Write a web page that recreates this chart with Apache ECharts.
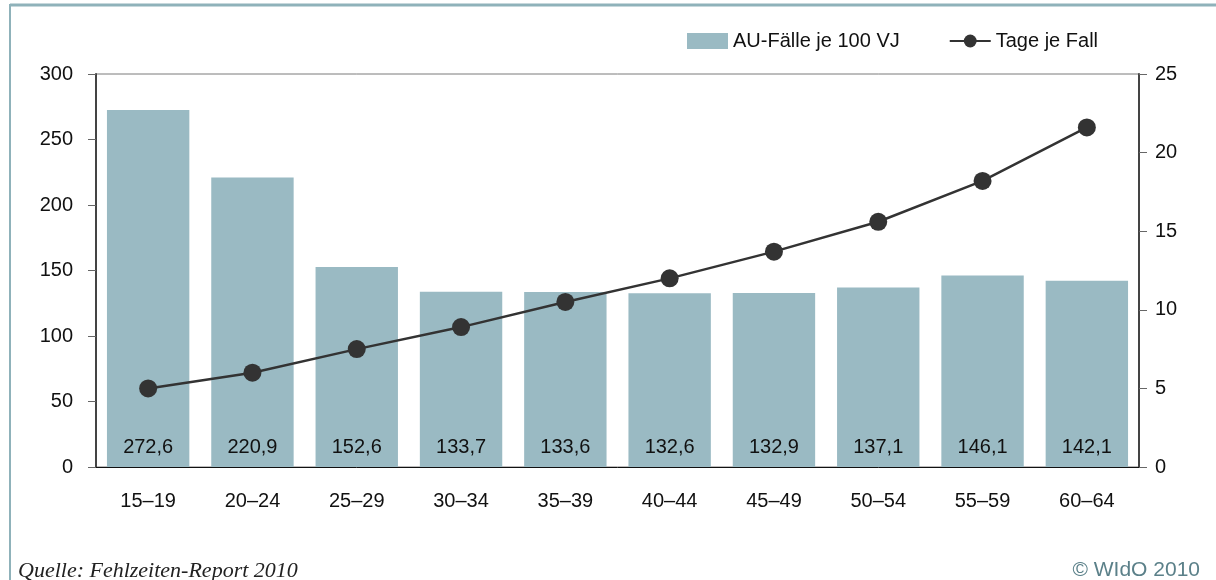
<!doctype html>
<html>
<head>
<meta charset="utf-8">
<title>AU-Fälle und Tage je Fall nach Alter</title>
<script src="https://cdn.jsdelivr.net/npm/echarts@6/dist/echarts.min.js"></script>
<style>
html,body{margin:0;padding:0;background:#fff;}
#chart{width:1216px;height:580px;}
</style>
</head>
<body>
<div id="chart"></div>
<script type="text/javascript">
// Altersgruppen
var kategorien = ['15–19','20–24','25–29','30–34','35–39','40–44','45–49','50–54','55–59','60–64'];
// AU-Fälle je 100 VJ (linke Achse)
var faelle = [272.6, 220.9, 152.6, 133.7, 133.6, 132.6, 132.9, 137.1, 146.1, 142.1];
// Tage je Fall (rechte Achse)
var tage = [5.0, 6.0, 7.5, 8.9, 10.5, 12.0, 13.7, 15.6, 18.2, 21.6];

var schrift = 'Liberation Sans, Arial, sans-serif';
var mychart = echarts.init(document.getElementById('chart'));

mychart.setOption({
	animation: false,
	textStyle: { fontFamily: schrift },
	grid: {
		left: 96, right: 77, top: 74, bottom: 113,
		show: true, borderColor: '#7a7a7a', borderWidth: 1
	},
	legend: {
		left: 687, top: 31, padding: 0,
		itemWidth: 41, itemHeight: 16, itemGap: 49,
		textStyle: { fontSize: 20, color: '#111', fontFamily: schrift },
		data: [
			{ name: 'AU-Fälle je 100 VJ', icon: 'rect' },
			{ name: 'Tage je Fall' }
		]
	},
	xAxis: {
		type: 'category',
		data: kategorien,
		axisLine: { lineStyle: { color: '#111', width: 1 } },
		axisTick: { show: false },
		axisLabel: { fontSize: 20, color: '#111', margin: 24 }
	},
	yAxis: [{
		type: 'value', min: 0, max: 300, interval: 50,
		axisLine: { show: true, lineStyle: { color: '#444', width: 2 } },
		axisTick: { show: true, inside: false, length: 8, lineStyle: { color: '#666' } },
		axisLabel: { fontSize: 20, color: '#111', margin: 23 },
		splitLine: { show: false }
	}, {
		type: 'value', min: 0, max: 25, interval: 5,
		axisLine: { show: true, lineStyle: { color: '#444', width: 2 } },
		axisTick: { show: true, inside: false, length: 8, lineStyle: { color: '#666' } },
		axisLabel: { fontSize: 20, color: '#111', margin: 16 },
		splitLine: { show: false }
	}],
	series: [{
		name: 'AU-Fälle je 100 VJ',
		type: 'bar',
		data: faelle,
		barCategoryGap: '21%',
		itemStyle: { color: '#9abac3' },
		label: {
			show: true, position: 'insideBottom', distance: 10,
			fontSize: 20, color: '#111',
			formatter: function (p) { return p.value.toFixed(1).replace('.', ','); }
		}
	}, {
		name: 'Tage je Fall',
		type: 'line',
		yAxisIndex: 1,
		data: tage,
		symbol: 'circle',
		symbolSize: 18,
		lineStyle: { color: '#333', width: 2.5 },
		itemStyle: { color: '#333' }
	}],
	graphic: [
		{ type: 'line', shape: { x1: 10, y1: 5, x2: 1216, y2: 5 }, style: { stroke: '#8fb2ba', lineWidth: 3 } },
		{ type: 'line', shape: { x1: 10, y1: 4, x2: 10, y2: 580 }, style: { stroke: '#8fb2ba', lineWidth: 2 } },
		{ type: 'text', left: 18, top: 560, style: { text: 'Quelle: Fehlzeiten-Report 2010', font: 'italic 22px "Liberation Serif", "Times New Roman", serif', fill: '#222' } },
		{ type: 'text', right: 16, top: 560, style: { text: '© WIdO 2010', font: '21px ' + schrift, fill: '#5b8089' } }
	]
});
</script>
</body>
</html>
